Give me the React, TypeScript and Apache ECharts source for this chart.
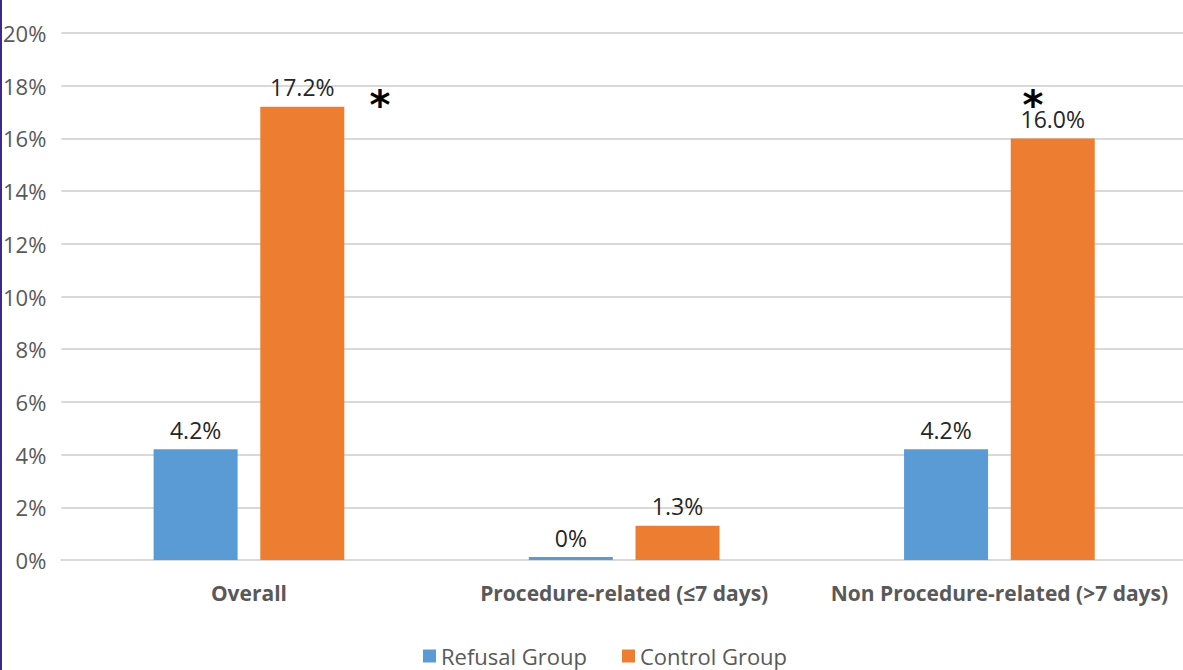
import React, { useEffect, useRef } from "react";
import * as echarts from "echarts";

const categories = ["Overall", "Procedure-related (≤7 days)", "Non Procedure-related (>7 days)"];
const refusalValues = [4.2, 0, 4.2];
const controlValues = [17.2, 1.3, 16.0];
const seriesNames = ["Refusal Group", "Control Group"];
const yTicks = { min: 0, max: 20, interval: 2 };

const FONT = "'Open Sans', 'Noto Sans', sans-serif";

export default function App() {
  const ref = useRef<HTMLDivElement>(null);
  useEffect(() => {
    if (!ref.current) return;
    const chart = echarts.init(ref.current, undefined, { renderer: "svg" });
    const fmt = (p: any) => (p.value === 0 ? "0%" : Number(p.value).toFixed(1) + "%");
    chart.setOption({
      animation: false,
      backgroundColor: "#ffffff",
      textStyle: { fontFamily: FONT },
      grid: { left: 61, width: 1126, top: 33, bottom: 110 },
      legend: {
        data: seriesNames,
        top: 640,
        left: 418,
        icon: "rect",
        itemWidth: 13,
        itemHeight: 13,
        itemGap: 35,
        textStyle: { fontSize: 22, color: "#595959", fontFamily: FONT },
      },
      xAxis: {
        type: "category",
        data: categories,
        axisLine: { lineStyle: { color: "#d9d9d9", width: 2 } },
        axisTick: { show: false },
        axisLabel: { interval: 0, fontSize: 21, fontWeight: "bold", color: "#595959", margin: 22, fontFamily: FONT },
      },
      yAxis: {
        type: "value",
        min: yTicks.min,
        max: yTicks.max,
        interval: yTicks.interval,
        axisLine: { show: false },
        axisTick: { show: false },
        splitLine: { lineStyle: { color: "#d9d9d9", width: 2 } },
        axisLabel: { formatter: "{value}%", fontSize: 22, color: "#595959", margin: 15, fontFamily: FONT },
      },
      series: [
        {
          name: seriesNames[0],
          type: "bar",
          data: refusalValues,
          barWidth: 84,
          barGap: "27%",
          barMinHeight: 3,
          itemStyle: { color: "#5b9bd5" },
          label: { show: true, position: "top", distance: 8, fontSize: 23, color: "#262626", formatter: fmt, fontFamily: FONT },
        },
        {
          name: seriesNames[1],
          type: "bar",
          data: controlValues,
          barWidth: 84,
          itemStyle: { color: "#ed7d31" },
          label: { show: true, position: "top", distance: 8, fontSize: 23, color: "#262626", formatter: fmt, fontFamily: FONT },
        },
      ],
      graphic: [
        { type: "rect", left: 0, top: 0, shape: { width: 2, height: 670 }, style: { fill: "#3b2a8c" } },
        { type: "text", x: 380, y: 105, style: { text: "*", fontSize: 40, fontWeight: "bold", fill: "#000", align: "center", verticalAlign: "middle", fontFamily: "'DejaVu Sans', sans-serif" } },
        { type: "text", x: 1033, y: 105, style: { text: "*", fontSize: 40, fontWeight: "bold", fill: "#000", align: "center", verticalAlign: "middle", fontFamily: "'DejaVu Sans', sans-serif" } },
      ],
    });
    return () => chart.dispose();
  }, []);
  return (
    <div style={{ position: "absolute", left: 0, top: 0, width: 1183, height: 670, overflow: "hidden" }}>
      <div ref={ref} style={{ width: 1200, height: 670 }} />
    </div>
  );
}
